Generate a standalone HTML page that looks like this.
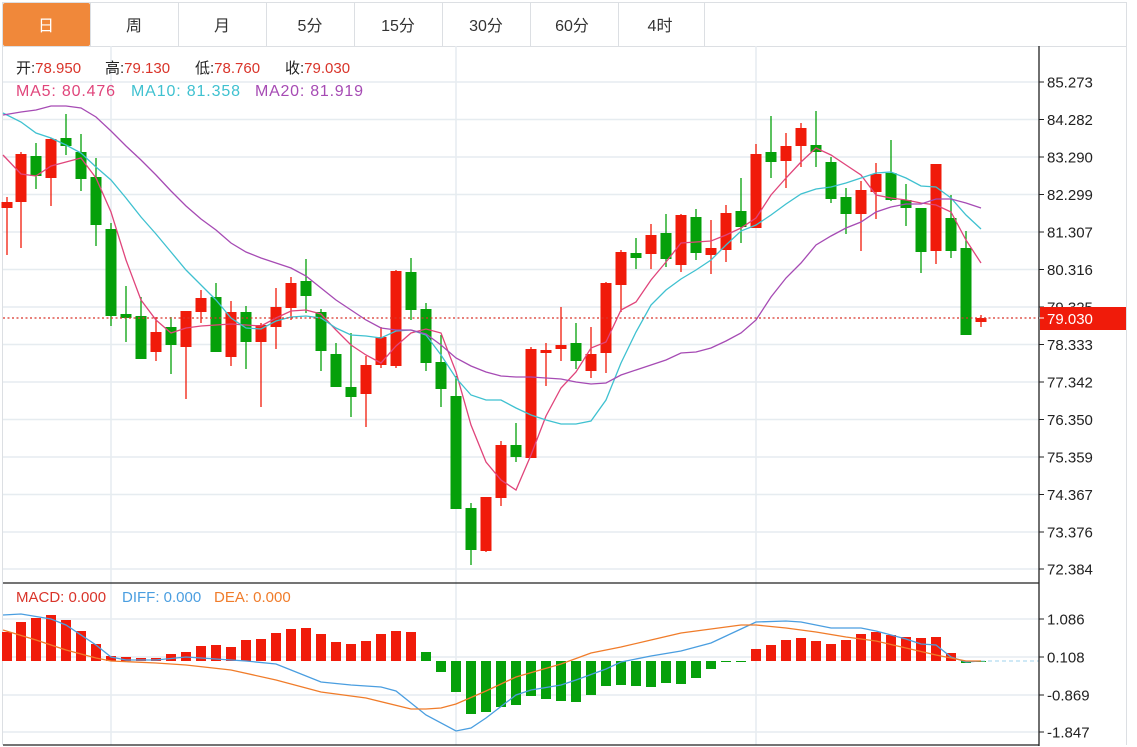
<!DOCTYPE html>
<html><head><meta charset="utf-8">
<style>
html,body{margin:0;padding:0;background:#fff;width:1137px;height:747px;overflow:hidden}
svg{display:block;font-family:"Liberation Sans","Noto Sans CJK SC",sans-serif}
</style></head>
<body>
<svg id="s" width="1137" height="747" viewBox="0 0 1137 747" xmlns="http://www.w3.org/2000/svg">
<rect x="0" y="0" width="1137" height="747" fill="#fff"/>
<rect x="2.5" y="2.5" width="1124" height="44" fill="#fff" stroke="#dcdfe3"/>
<rect x="3" y="3" width="87" height="43" fill="#f0883a" rx="2"/>
<g stroke="#dcdfe3"><line x1="178.5" y1="3" x2="178.5" y2="46"/><line x1="266.5" y1="3" x2="266.5" y2="46"/><line x1="354.5" y1="3" x2="354.5" y2="46"/><line x1="442.5" y1="3" x2="442.5" y2="46"/><line x1="530.5" y1="3" x2="530.5" y2="46"/><line x1="618.5" y1="3" x2="618.5" y2="46"/><line x1="704.5" y1="3" x2="704.5" y2="46"/><line x1="90.5" y1="3" x2="90.5" y2="46"/></g>
<g font-size="16" text-anchor="middle" fill="#333">
<text x="46" y="31" fill="#fff">日</text><text x="134" y="31">周</text><text x="222" y="31">月</text><text x="310" y="31">5分</text><text x="398" y="31">15分</text><text x="486" y="31">30分</text><text x="572" y="31">60分</text><text x="660" y="31">4时</text>
</g>
<g id="g"></g>
</svg>
<script>
var NS="http://www.w3.org/2000/svg",g=document.getElementById("g");
function el(t,a,txt){var e=document.createElementNS(NS,t);for(var k in a)e.setAttribute(k,a[k]);if(txt!=null)e.textContent=txt;g.appendChild(e);return e;}
el("line",{x1:2.5,y1:46,x2:2.5,y2:745,stroke:"#dcdfe3"});
el("line",{x1:1126.5,y1:46,x2:1126.5,y2:745,stroke:"#dcdfe3"});
var py=[82,119.5,157,194.5,232,269.5,307,344.5,382,419.5,457,494.5,532,569];
var pl=["85.273","84.282","83.290","82.299","81.307","80.316","79.325","78.333","77.342","76.350","75.359","74.367","73.376","72.384"];
py.forEach(function(y){el("line",{x1:3,y1:y,x2:1039,y2:y,stroke:"#e6ecf0","stroke-width":1.5});});
[619,657,695,732].forEach(function(y){el("line",{x1:3,y1:y,x2:1039,y2:y,stroke:"#e6ecf0","stroke-width":1.5});});
[111,456,756].forEach(function(x){el("line",{x1:x,y1:46,x2:x,y2:745,stroke:"#e6ecf0","stroke-width":1.5});});
var C=[[7,202,208,197,255,1],[21,154,202,152,248,1],[36,156,176,143,189,0],[51,139,178,138,206,1],[66,138,146,114,155,0],[81,152,179,134,191,0],[96,177,225,158,246,0],[111,229,316,223,326,0],[126,314,318,286,342,0],[141,316,359,297,359,0],[156,332,352,317,361,1],[171,327,345,317,374,0],[186,311,347,311,399,1],[201,298,312,290,323,1],[216,297,352,283,352,0],[231,312,357,301,366,1],[246,312,342,306,369,0],[261,325,342,323,407,1],[276,307,327,288,349,1],[291,283,308,277,320,1],[306,281,296,259,313,0],[321,312,351,309,371,0],[336,354,387,343,387,0],[351,387,397,333,417,0],[366,365,394,356,427,1],[381,337,365,327,368,1],[396,271,366,270,368,1],[411,272,310,258,320,0],[426,309,363,303,371,0],[441,362,389,335,407,0],[456,396,509,376,509,0],[471,508,550,503,565,0],[486,497,551,497,552,1],[501,445,498,441,506,1],[516,445,457,423,462,0],[531,349,458,347,458,1],[546,350,353,343,386,1],[561,345,349,307,361,1],[576,343,361,323,369,0],[591,354,371,327,378,1],[606,283,353,282,373,1],[621,252,285,250,312,1],[636,253,258,238,269,0],[651,235,254,224,269,1],[666,233,259,214,267,0],[681,215,265,214,272,1],[696,217,253,209,260,0],[711,248,255,220,274,1],[726,213,250,205,262,1],[741,211,227,178,243,0],[756,154,228,144,228,1],[771,152,162,116,178,0],[786,146,161,133,188,1],[801,128,146,123,167,1],[816,145,152,111,167,0],[831,162,199,157,203,0],[846,197,214,188,234,0],[861,190,214,181,251,1],[876,174,192,163,219,1],[891,173,200,140,201,0],[906,200,208,184,226,0],[921,208,252,208,273,0],[936,164,251,164,264,1],[951,218,251,195,258,0],[966,248,335,231,335,0],[981,318,322,315,327,1]];
C.forEach(function(c){var col=c[5]?"#f01b0a":"#05a00a";
el("line",{x1:c[0],y1:c[3],x2:c[0],y2:c[4],stroke:col,"stroke-width":1.3});
el("rect",{x:c[0]-5.5,y:c[1],width:11,height:Math.max(2,c[2]-c[1]),fill:col});});
function pl2(pts,col,w,dash){el("polyline",{points:pts.map(function(p){return p.join(",")}).join(" "),fill:"none",stroke:col,"stroke-width":w||1.3,"stroke-dasharray":dash||"none"});}
pl2([[3,155],[21,174],[36,176],[51,166],[66,162],[81,158],[96,178],[111,212],[126,260],[141,300],[156,320],[171,333],[186,328],[201,326],[216,325],[231,324],[246,325],[261,326],[276,318],[291,311],[306,310],[321,314],[336,330],[351,345],[366,355],[381,363],[396,346],[411,333],[426,329],[441,333],[456,372],[471,425],[486,462],[501,480],[516,490],[531,455],[546,416],[561,388],[576,372],[591,348],[606,342],[621,310],[636,302],[651,280],[666,262],[681,243],[696,242],[711,241],[726,235],[741,228],[756,218],[771,195],[786,178],[801,162],[816,148],[831,155],[846,165],[861,175],[876,195],[891,198],[906,200],[921,203],[936,205],[951,212],[966,240],[981,263]],"#e0457b");
pl2([[3,113],[21,122],[36,133],[51,138],[66,145],[81,153],[96,167],[111,180],[126,198],[141,217],[156,234],[171,252],[186,270],[201,285],[216,300],[231,318],[246,328],[261,329],[276,321],[291,317],[306,316],[321,318],[336,328],[351,335],[366,336],[381,338],[396,331],[411,330],[426,335],[441,355],[456,378],[471,395],[486,400],[501,400],[516,408],[531,415],[546,420],[561,424],[576,424],[591,421],[606,400],[621,363],[636,332],[651,305],[666,290],[681,279],[696,270],[711,260],[726,245],[741,231],[756,225],[771,215],[786,204],[801,194],[816,189],[831,187],[846,183],[861,178],[876,173],[891,172],[906,178],[921,186],[936,187],[951,198],[966,215],[981,229]],"#3fc1d0");
pl2([[3,115],[21,112],[36,110],[51,106],[66,106],[81,108],[96,117],[111,131],[126,146],[141,160],[156,175],[171,191],[186,206],[201,219],[216,230],[231,243],[246,252],[261,258],[276,263],[291,268],[306,276],[321,288],[336,300],[351,310],[366,320],[381,328],[396,330],[411,330],[426,334],[441,345],[456,358],[471,366],[486,372],[501,376],[516,377],[531,377],[546,378],[561,379],[576,382],[591,384],[606,383],[621,375],[636,370],[651,365],[666,360],[681,353],[696,352],[711,348],[726,341],[741,333],[756,320],[771,297],[786,278],[801,263],[816,245],[831,236],[846,228],[861,222],[876,212],[891,207],[906,204],[921,204],[936,199],[951,199],[966,203],[981,208]],"#a64bb4");
el("line",{x1:3,y1:318,x2:1039,y2:318,stroke:"#d9342a","stroke-width":1.3,"stroke-dasharray":"2,2.5"});
var base=661;
var M=[[7,632],[21,622],[36,618],[51,615],[66,620],[81,631],[96,644],[111,656],[126,657],[141,658],[156,658],[171,654],[186,652],[201,646],[216,645],[231,647],[246,640],[261,639],[276,633],[291,629],[306,628],[321,634],[336,642],[351,644],[366,641],[381,634],[396,631],[411,632],[426,652],[441,672],[456,692],[471,714],[486,712],[501,707],[516,705],[531,696],[546,699],[561,701],[576,702],[591,695],[606,686],[621,685],[636,686],[651,687],[666,683],[681,684],[696,678],[711,669],[726,662],[741,661],[756,649],[771,645],[786,640],[801,638],[816,641],[831,644],[846,640],[861,634],[876,632],[891,635],[906,637],[921,638],[936,637],[951,653],[966,663],[981,662]];
M.forEach(function(m,i){var up=i<28||(m[0]>=756&&m[0]<=951);var y0=Math.min(m[1],base),h=Math.abs(m[1]-base);if(h<1)h=1;
el("rect",{x:m[0]-5,y:y0,width:10,height:h,fill:up?"#f01b0a":"#05a00a"});});
pl2([[3,615],[21,614],[51,619],[66,625],[96,645],[111,657],[126,660],[156,660],[186,657],[216,659],[246,661],[276,664],[291,670],[321,682],[351,685],[381,687],[396,691],[426,715],[456,731],[471,728],[486,718],[516,695],[531,690],[561,685],[576,680],[606,669],[621,662],[651,656],[681,651],[696,647],[711,643],[726,636],[741,629],[756,622],[786,621],[801,622],[831,628],[861,628],[876,631],[906,639],[921,644],[936,645],[951,657],[966,662],[981,661]],"#4a9ee0");
pl2([[3,630],[36,640],[66,650],[96,658],[111,661],[156,663],[186,665],[231,670],[276,680],[321,692],[366,698],[411,709],[426,709],[441,708],[456,704],[486,691],[516,677],[561,664],[591,653],[621,647],[651,640],[681,633],[711,629],[741,625],[756,625],[786,628],[816,632],[846,637],[876,641],[906,648],[936,655],[966,661],[981,661]],"#f07c2a");
el("line",{x1:981,y1:661,x2:1039,y2:661,stroke:"#9fd3ee","stroke-width":1,"stroke-dasharray":"4,3"});
el("line",{x1:3,y1:583,x2:1039,y2:583,stroke:"#222","stroke-width":1.3});
el("line",{x1:3,y1:745,x2:1039,y2:745,stroke:"#222","stroke-width":1.3});
el("line",{x1:1039,y1:46,x2:1039,y2:746,stroke:"#222","stroke-width":1.3});
py.forEach(function(y,i){el("line",{x1:1039,y1:y,x2:1044,y2:y,stroke:"#222"});el("text",{x:1047,y:y+5.5,"font-size":15,fill:"#222"},pl[i]);});
[[619,"1.086"],[657,"0.108"],[695,"-0.869"],[732,"-1.847"]].forEach(function(a){el("line",{x1:1039,y1:a[0],x2:1044,y2:a[0],stroke:"#222"});el("text",{x:1047,y:a[0]+5.5,"font-size":15,fill:"#222"},a[1]);});
el("rect",{x:1040,y:307,width:86,height:23,fill:"#f01b0a"});
el("line",{x1:1039,y1:318,x2:1044,y2:318,stroke:"#fff"});
el("text",{x:1047,y:324,"font-size":15,fill:"#fff"},"79.030");
function leg(x,y,a,b,ca,cb){var t=el("text",{x:x,y:y,"font-size":15});var s1=document.createElementNS(NS,"tspan");s1.setAttribute("fill",ca);s1.textContent=a;var s2=document.createElementNS(NS,"tspan");s2.setAttribute("fill",cb);s2.textContent=b;t.appendChild(s1);t.appendChild(s2);}
leg(16,73,"开:","78.950","#222","#d9342a");leg(105,73,"高:","79.130","#222","#d9342a");leg(195,73,"低:","78.760","#222","#d9342a");leg(285,73,"收:","79.030","#222","#d9342a");
el("text",{x:16,y:96,"font-size":16,fill:"#e0457b",textLength:99,lengthAdjust:"spacing"},"MA5: 80.476");
el("text",{x:131,y:96,"font-size":16,fill:"#3fc1d0",textLength:109,lengthAdjust:"spacing"},"MA10: 81.358");
el("text",{x:255,y:96,"font-size":16,fill:"#a64bb4",textLength:108,lengthAdjust:"spacing"},"MA20: 81.919");
el("text",{x:16,y:602,"font-size":15,fill:"#d9342a"},"MACD: 0.000");
el("text",{x:122,y:602,"font-size":15,fill:"#4a9ee0"},"DIFF: 0.000");
el("text",{x:214,y:602,"font-size":15,fill:"#f07c2a"},"DEA: 0.000");
</script>
</body></html>
